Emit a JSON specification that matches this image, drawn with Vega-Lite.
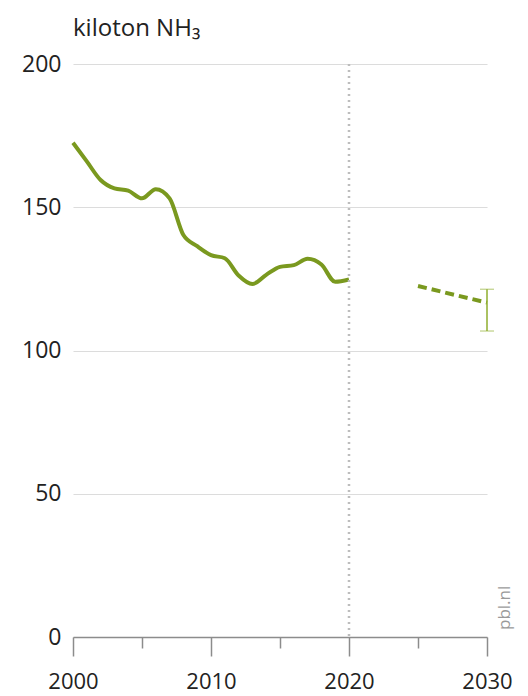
{
  "$schema": "https://vega.github.io/schema/vega-lite/v6.json",
  "width": 414,
  "height": 573,
  "autosize": "none",
  "padding": {"left": 73, "top": 64, "right": 41, "bottom": 59},
  "background": "white",
  "title": {"text": "kiloton NH₃", "anchor": "start", "frame": "group", "font": "Open Sans", "fontSize": 24, "fontWeight": "normal", "color": "#222222", "offset": 12},
  "config": {"view": {"stroke": null}, "font": "Open Sans"},
  "datasets": {
    "hist": [
      {"year": 2000, "value": 172.5},
      {"year": 2001, "value": 166},
      {"year": 2002, "value": 159.5},
      {"year": 2003, "value": 156.6},
      {"year": 2004, "value": 155.8},
      {"year": 2005, "value": 153.1},
      {"year": 2006, "value": 156.3},
      {"year": 2007, "value": 153.1},
      {"year": 2008, "value": 140.3},
      {"year": 2009, "value": 136.4},
      {"year": 2010, "value": 133.3},
      {"year": 2011, "value": 132.2},
      {"year": 2012, "value": 126.2},
      {"year": 2013, "value": 123.2},
      {"year": 2014, "value": 126.4},
      {"year": 2015, "value": 129.2},
      {"year": 2016, "value": 129.8},
      {"year": 2017, "value": 132.0},
      {"year": 2018, "value": 130.0},
      {"year": 2019, "value": 124.0},
      {"year": 2020, "value": 124.8}
    ],
    "proj": [
      {"year": 2025, "value": 122.5},
      {"year": 2030, "value": 116.7}
    ],
    "range": [
      {"year": 2030, "low": 106.8, "high": 121.4}
    ],
    "note": [
      {"year": 2030, "value": 0, "label": "pbl.nl"}
    ]
  },
  "layer": [
    {
      "data": {"name": "hist"},
      "mark": {"type": "line", "color": "#7a991f", "strokeWidth": 4, "interpolate": "monotone"},
      "encoding": {
        "x": {"field": "year", "type": "quantitative",
          "scale": {"domain": [2000, 2030], "nice": false, "zero": false},
          "axis": {"values": [2000, 2005, 2010, 2015, 2020, 2025, 2030],
            "title": null, "grid": false, "domainColor": "#8c8c8c", "domainWidth": 1.5,
            "tickColor": "#8c8c8c", "tickWidth": 1.5,
            "tickSize": {"condition": {"test": "datum.value % 10 === 0", "value": 19}, "value": 11},
            "labelExpr": "datum.value % 10 === 0 ? datum.label : ''",
            "format": "d", "labelFontSize": 22, "labelColor": "#222222", "labelPadding": 15, "labelFlush": false}},
        "y": {"field": "value", "type": "quantitative",
          "scale": {"domain": [0, 200], "nice": false},
          "axis": {"values": [0, 50, 100, 150, 200], "title": null, "domain": false, "ticks": false,
            "gridColor": "#dcdcdc", "gridWidth": 1.2, "labelFontSize": 23, "labelColor": "#222222", "labelPadding": 12}}
      }
    },
    {
      "data": {"values": [{"year": 2020}]},
      "mark": {"type": "rule", "color": "#bdbdbd", "strokeWidth": 2.5, "strokeDash": [2, 4]},
      "encoding": {"x": {"field": "year", "type": "quantitative"}}
    },
    {
      "data": {"name": "proj"},
      "mark": {"type": "line", "color": "#7a991f", "strokeWidth": 4, "strokeDash": [9, 5]},
      "encoding": {
        "x": {"field": "year", "type": "quantitative"},
        "y": {"field": "value", "type": "quantitative"}
      }
    },
    {
      "data": {"name": "range"},
      "mark": {"type": "errorbar", "ticks": {"size": 14, "color": "#8fae2e", "strokeWidth": 1.5}, "rule": {"color": "#8fae2e", "strokeWidth": 1.5}},
      "encoding": {
        "x": {"field": "year", "type": "quantitative"},
        "y": {"field": "low", "type": "quantitative"},
        "y2": {"field": "high"}
      }
    },
    {
      "data": {"name": "note"},
      "mark": {"type": "text", "angle": 270, "align": "left", "baseline": "middle", "fontSize": 17, "color": "#9a9a9a", "dx": 7, "dy": 18, "font": "Open Sans"},
      "encoding": {
        "x": {"field": "year", "type": "quantitative"},
        "y": {"field": "value", "type": "quantitative"},
        "text": {"field": "label"}
      }
    }
  ]
}
